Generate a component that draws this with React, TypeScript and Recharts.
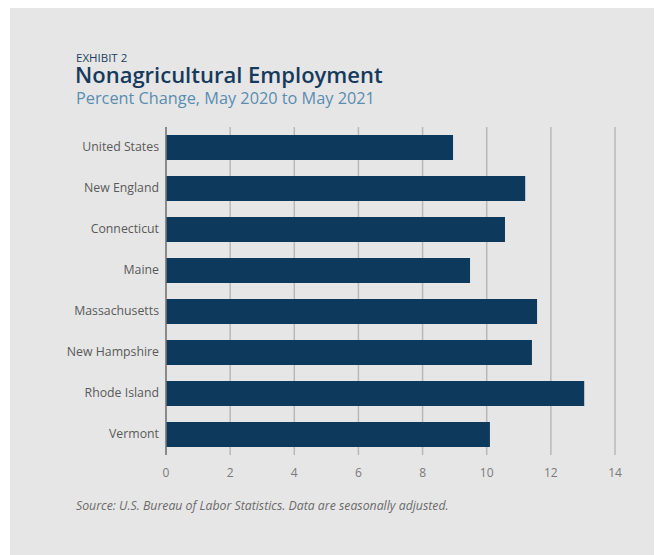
import { BarChart, Bar, XAxis, YAxis, CartesianGrid } from "recharts";

const regions = [
  "United States",
  "New England",
  "Connecticut",
  "Maine",
  "Massachusetts",
  "New Hampshire",
  "Rhode Island",
  "Vermont",
];
const pctChange = [8.95, 11.2, 10.57, 9.48, 11.57, 11.41, 13.04, 10.1];
const xTicks = [0, 2, 4, 6, 8, 10, 12, 14];

const data = regions.map((name, i) => ({ name, value: pctChange[i] }));

const FONT = "'Open Sans', 'Noto Sans', sans-serif";
const BAR_COLOR = "#0d395c";

export default function App() {
  return (
    <div
      style={{
        position: "relative",
        marginLeft: 2,
        width: 652,
        height: 547,
        background: "#e6e6e6",
        fontFamily: FONT,
      }}
    >
      <div
        style={{
          position: "absolute",
          left: 66,
          top: 44,
          fontSize: 11.5,
          color: "#1f3f5f",
          lineHeight: "11px",
        }}
      >
        EXHIBIT 2
      </div>
      <div
        style={{
          position: "absolute",
          left: 65,
          top: 55,
          fontSize: 22,
          fontWeight: 600,
          color: "#173a5c",
          lineHeight: "23px",
        }}
      >
        Nonagricultural Employment
      </div>
      <div
        style={{
          position: "absolute",
          left: 66,
          top: 80,
          fontSize: 16.3,
          color: "#5a8db2",
          lineHeight: "20px",
        }}
      >
        Percent Change, May 2020 to May 2021
      </div>

      <div style={{ position: "absolute", left: 0, top: 0 }}>
        <BarChart
          width={652}
          height={480}
          data={data}
          layout="vertical"
          margin={{ top: 119, right: 47, bottom: 3, left: 0 }}
          barSize={25}
        >
          <CartesianGrid
            horizontal={false}
            stroke="#b8b8b8"
            strokeWidth={1.5}
          />
          <XAxis
            type="number"
            domain={[0, 14]}
            ticks={xTicks}
            axisLine={false}
            tickLine={false}
            tickSize={0}
            tickMargin={13}
            height={30}
            tick={{ fill: "#7a7a7a", fontSize: 12, fontFamily: FONT }}
          />
          <YAxis
            type="category"
            dataKey="name"
            width={156}
            axisLine={{ stroke: "#777777", strokeWidth: 1.5 }}
            tickLine={false}
            tickSize={0}
            tickMargin={7}
            tick={{ fill: "#5a5a5a", fontSize: 12.3, fontFamily: FONT, dy: -1 }}
          />
          <Bar dataKey="value" fill={BAR_COLOR} isAnimationActive={false} />
        </BarChart>
      </div>

      <div
        style={{
          position: "absolute",
          left: 66,
          top: 490,
          fontSize: 12.3,
          fontStyle: "italic",
          color: "#6b6b6b",
          lineHeight: "16px",
        }}
      >
        Source: U.S. Bureau of Labor Statistics. Data are seasonally adjusted.
      </div>
    </div>
  );
}
